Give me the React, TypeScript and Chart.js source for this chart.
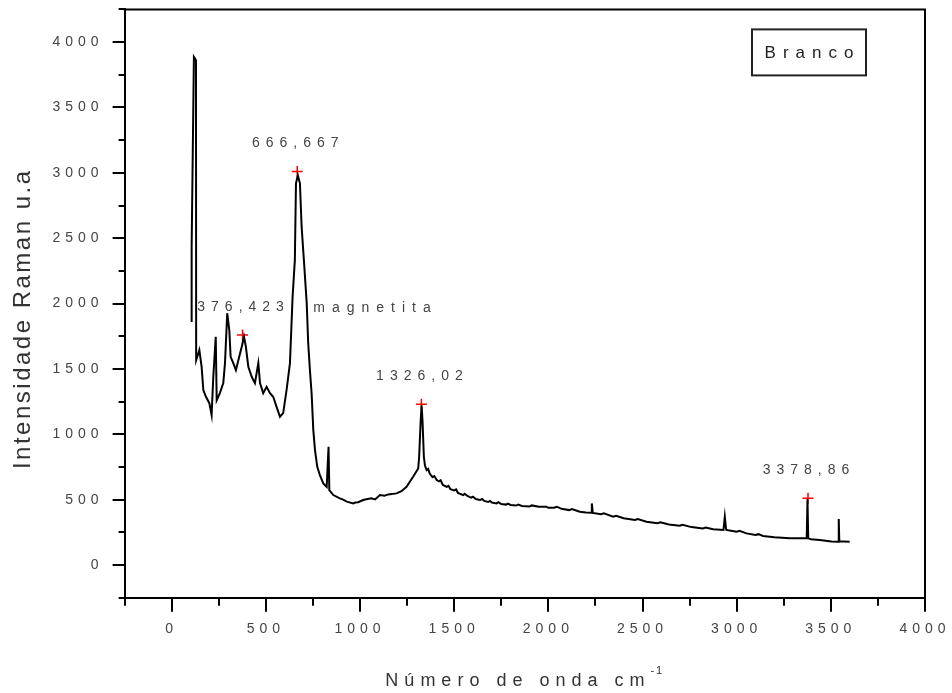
import React, { useEffect, useRef } from 'react';
import { Chart, registerables } from 'chart.js';

Chart.register(...registerables);

// Raman spectrum (wavenumber in cm^-1, intensity in u.a.)
const waveNumber = [
  106, 106, 118, 129, 130, 147, 159, 168, 182, 200, 212, 221, 234, 239, 256, 274, 283, 295, 306, 313,
  327, 341, 354, 372, 384, 394, 407, 425, 442, 460, 469, 486, 504, 522, 539, 557, 575, 592, 610, 628,
  642, 654, 660, 670, 681, 690, 702, 717, 725, 734, 743, 752, 761, 773, 787, 805, 823, 833, 837, 858,
  893, 910, 930, 964, 975, 990, 1017, 1040, 1060, 1080, 1106, 1130, 1150, 1194, 1220, 1247, 1282, 1309, 1314,
  1322, 1327, 1332, 1339,
  1345, 1354, 1362, 1370, 1385, 1395, 1407, 1420, 1428, 1440, 1460, 1470, 1480, 1500, 1510, 1520, 1548,
  1556, 1570, 1590, 1600, 1615, 1637, 1648, 1660, 1680, 1690, 1700, 1725, 1735, 1750, 1775, 1785, 1800,
  1830, 1840, 1860, 1900, 1912, 1950, 1990, 2000, 2030, 2045, 2070, 2110, 2125, 2167, 2200, 2229, 2231,
  2236, 2280, 2295, 2344, 2360, 2400, 2460, 2475, 2521, 2580, 2595, 2640, 2698, 2712, 2760, 2820, 2835,
  2875, 2930, 2937, 2944, 2955, 3000, 3015, 3052, 3100, 3115, 3140, 3200, 3282, 3340, 3372, 3376, 3380,
  3395, 3410, 3441, 3503, 3539, 3542, 3545, 3570, 3600,
];
const intensity = [
  1858, 2431, 3886, 3860, 1567, 1644, 1516, 1338, 1287, 1238, 1147, 1440, 1746, 1261, 1315, 1391, 1544, 1926, 1796, 1592,
  1544, 1491, 1567, 1669, 1746, 1669, 1516, 1440, 1391, 1544, 1391, 1315, 1363, 1315, 1287, 1210, 1134, 1162, 1338, 1544,
  2051, 2332, 2920, 2980, 2920, 2586, 2332, 2003, 1695, 1491, 1312, 1032, 879, 751, 688, 624, 598, 904, 573, 535,
  510, 500, 485, 471, 478, 480, 497, 505, 510, 502, 535, 530, 540, 548, 565, 598, 675, 739, 828,
  1100, 1220, 1100, 828,
  760, 726, 735, 700, 672, 680, 650, 640, 648, 612, 598, 606, 580, 570, 578, 552, 535,
  545, 528, 515, 522, 505, 497, 505, 490, 482, 490, 478, 471, 480, 466, 462, 470, 459,
  455, 463, 452, 448, 456, 446, 446, 438, 438, 446, 430, 420, 428, 407, 402, 400, 471,
  398, 388, 396, 369, 376, 358, 345, 352, 331, 320, 327, 310, 300, 307, 290, 280, 286,
  273, 268, 369, 270, 266, 255, 262, 242, 230, 236, 222, 213, 204, 204, 204, 502, 204,
  197, 195, 191, 180, 178, 352, 182, 180, 178,
];

// marked peaks
const peakX = [376.423, 666.667, 1326.02, 3378.86];
const peakY = [1760, 3010, 1230, 510];
const peakLabels = ['376,423', '666,667', '1326,02', '3378,86'];

// free text note
const noteText = ['magnetita'];
const noteX = [752];
const noteY = [1965];

const legendLabel = 'Branco';
const xTitle = 'Número de onda cm';
const xTitleSup = '-1';
const yTitle = 'Intensidade Raman u.a';

const FONT = '"Liberation Sans", Arial, sans-serif';

const decor = {
  id: 'decor',
  beforeUpdate(chart: any) {
    chart.ctx.letterSpacing = '5px';
  },
  beforeDraw(chart: any) {
    chart.ctx.letterSpacing = '5px';
  },
  afterDraw(chart: any) {
    const { ctx, chartArea: a, scales } = chart;
    const xs = scales.x;
    const ys = scales.y;
    ctx.save();
    ctx.letterSpacing = '0px';
    ctx.strokeStyle = '#000';
    ctx.lineWidth = 2;
    // top and right frame
    ctx.beginPath();
    ctx.moveTo(a.left - 1, a.top);
    ctx.lineTo(a.right, a.top);
    ctx.lineTo(a.right, a.bottom + 1);
    ctx.stroke();
    // ticks
    ctx.beginPath();
    xs.ticks.forEach((t: any) => {
      const px = Math.round(xs.getPixelForValue(t.value));
      const major = Math.abs(t.value % 500) < 1e-6;
      ctx.moveTo(px, a.bottom);
      ctx.lineTo(px, a.bottom + (major ? 14 : 8));
    });
    ys.ticks.forEach((t: any) => {
      const py = Math.round(ys.getPixelForValue(t.value));
      const major = Math.abs(t.value % 500) < 1e-6;
      ctx.moveTo(a.left, py);
      ctx.lineTo(a.left - (major ? 12 : 6), py);
    });
    ctx.stroke();

    // peak labels
    ctx.fillStyle = '#444';
    ctx.font = '14px ' + FONT;
    ctx.textBaseline = 'middle';
    ctx.textAlign = 'center';
    ctx.letterSpacing = '6px';
    peakLabels.forEach((lab, i) => {
      const px = xs.getPixelForValue(peakX[i]);
      const py = ys.getPixelForValue(peakY[i]);
      ctx.fillText(lab, px + 1, py - 28);
    });
    ctx.textAlign = 'left';
    ctx.letterSpacing = '7px';
    noteText.forEach((t, i) => {
      ctx.fillText(t, xs.getPixelForValue(noteX[i]), ys.getPixelForValue(noteY[i]));
    });

    // legend box
    const bx = a.right - 173;
    const by = a.top + 20;
    ctx.strokeStyle = '#222';
    ctx.lineWidth = 2;
    ctx.strokeRect(bx, by, 114, 46);
    ctx.fillStyle = '#222';
    ctx.font = '17px ' + FONT;
    ctx.textAlign = 'center';
    ctx.letterSpacing = '7px';
    ctx.fillText(legendLabel, bx + 57 + 3.5, by + 24);

    // x title
    ctx.font = '18px ' + FONT;
    ctx.letterSpacing = '6px';
    ctx.textAlign = 'left';
    ctx.textBaseline = 'alphabetic';
    ctx.fillStyle = '#333';
    const w = ctx.measureText(xTitle).width;
    ctx.font = '11px ' + FONT;
    ctx.letterSpacing = '2px';
    const ws = ctx.measureText(xTitleSup).width;
    const cx = (a.left + a.right) / 2;
    const x0 = cx - (w + ws) / 2;
    ctx.font = '18px ' + FONT;
    ctx.letterSpacing = '6px';
    ctx.fillText(xTitle, x0, 686);
    ctx.font = '11px ' + FONT;
    ctx.letterSpacing = '2px';
    ctx.fillText(xTitleSup, x0 + w, 674);

    // y title
    ctx.save();
    ctx.translate(30, 320);
    ctx.rotate(-Math.PI / 2);
    ctx.font = '24px ' + FONT;
    ctx.letterSpacing = '2.5px';
    ctx.textAlign = 'center';
    ctx.fillStyle = '#333';
    ctx.fillText(yTitle, 1.25, 0);
    ctx.restore();

    ctx.restore();
  },
};

export default function App() {
  const ref = useRef<HTMLCanvasElement | null>(null);
  useEffect(() => {
    if (!ref.current) return;
    const spectrum = waveNumber.map((x, i) => ({ x, y: intensity[i] }));
    const peaks = peakX.map((x, i) => ({ x, y: peakY[i] }));
    const tickLabel = (v: any) => {
      const n = Number(v);
      return n >= 0 && Math.abs(n % 500) < 1e-6 ? String(n) : '';
    };
    const noPad = (s: any) => {
      s.paddingLeft = 0;
      s.paddingRight = 0;
      s.paddingTop = 0;
      s.paddingBottom = 0;
    };
    const chart = new Chart(ref.current, {
      type: 'scatter',
      data: {
        datasets: [
          {
            label: legendLabel,
            data: spectrum,
            showLine: true,
            borderColor: '#000',
            borderWidth: 2,
            pointRadius: 0,
            tension: 0,
          },
          {
            label: 'peaks',
            data: peaks,
            showLine: false,
            pointStyle: 'cross',
            pointRadius: 5.5,
            borderColor: '#ff0000',
            borderWidth: 1.5,
          },
        ],
      },
      options: {
        animation: false,
        responsive: true,
        maintainAspectRatio: false,
        layout: { padding: { left: 0, right: 27, top: 9.4, bottom: 0 } },
        plugins: { legend: { display: false }, tooltip: { enabled: false } },
        scales: {
          x: {
            type: 'linear',
            min: -250,
            max: 4000,
            afterFit: (s: any) => { s.height = 95.3; noPad(s); },
            border: { display: true, color: '#000', width: 2 },
            grid: { drawOnChartArea: false, drawTicks: true, tickLength: 12, tickColor: 'rgba(0,0,0,0)' },
            ticks: {
              stepSize: 250,
              autoSkip: false,
              maxRotation: 0,
              padding: 11,
              color: '#444',
              font: { family: FONT, size: 14 },
              callback: tickLabel,
            },
          },
          y: {
            type: 'linear',
            min: -250,
            max: 4250,
            afterFit: (s: any) => { s.width = 124.6; noPad(s); },
            border: { display: true, color: '#000', width: 2 },
            grid: { drawOnChartArea: false, drawTicks: true, tickLength: 12, tickColor: 'rgba(0,0,0,0)' },
            ticks: {
              stepSize: 250,
              autoSkip: false,
              padding: 9,
              color: '#444',
              font: { family: FONT, size: 14 },
              callback: tickLabel,
            },
          },
        },
      },
      plugins: [decor],
    });
    return () => chart.destroy();
  }, []);
  return (
    <div style={{ position: 'fixed', left: 0, top: 0, width: 952, height: 693, background: '#fff' }}>
      <canvas ref={ref} />
    </div>
  );
}
